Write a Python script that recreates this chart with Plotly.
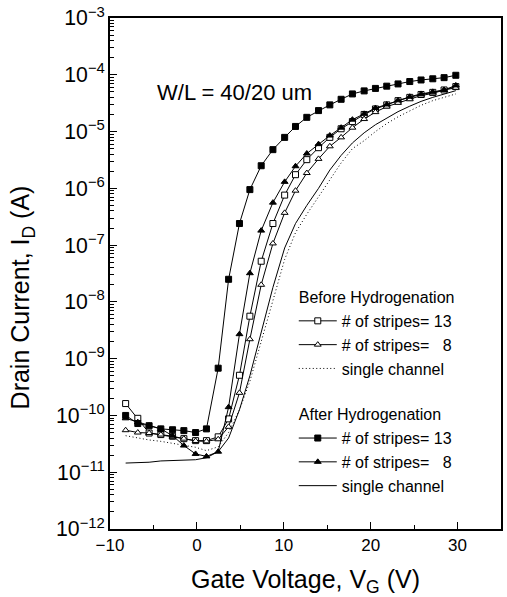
import plotly.graph_objects as go

# Gate-voltage sweep points (V)
vg = [-8.2, -6.8, -5.5, -4.15, -2.8, -1.5, -0.15, 1.1, 2.45, 3.65,
      4.9, 6.1, 7.4, 8.75, 10.1, 11.35, 12.65, 14.0, 15.3, 16.6,
      17.9, 19.25, 20.55, 21.85, 23.15, 24.5, 25.8, 27.15, 28.45, 29.8]

# Drain current (A) before hydrogenation
before_13 = [1.62e-10, 8.9e-11, 4.9e-11, 4.6e-11, 4.3e-11, 3.9e-11, 3.6e-11, 3.6e-11, 4.2e-11, 8.7e-11,
             5.1e-10, 5.6e-9, 5.2e-8, 2.4e-7, 7.6e-7, 1.74e-6, 3.2e-6, 5.2e-6, 7.9e-6, 1.12e-5,
             1.5e-5, 2.0e-5, 2.5e-5, 2.95e-5, 3.5e-5, 4.0e-5, 4.5e-5, 4.9e-5, 5.4e-5, 6.2e-5]
before_8 = [5.5e-11, 5.0e-11, 4.9e-11, 4.6e-11, 4.2e-11, 3.9e-11, 3.55e-11, 3.5e-11, 3.8e-11, 6.3e-11,
            2.5e-10, 2.2e-9, 2.0e-8, 1.07e-7, 3.7e-7, 9.1e-7, 1.86e-6, 3.3e-6, 5.5e-6, 7.9e-6,
            1.17e-5, 1.66e-5, 2.2e-5, 2.75e-5, 3.2e-5, 3.7e-5, 4.3e-5, 4.7e-5, 5.4e-5, 5.9e-5]
before_single = [4.4e-11, 4.0e-11, 3.7e-11, 3.5e-11, 3.2e-11, 2.95e-11, 2.75e-11, 2.4e-11, 2.8e-11, 5.0e-11,
                 1.26e-10, 4.0e-10, 2.0e-9, 1.12e-8, 5.6e-8, 1.66e-7, 3.5e-7, 7.1e-7, 1.38e-6, 2.8e-6,
                 5.0e-6, 6.9e-6, 1.0e-5, 1.38e-5, 1.82e-5, 2.34e-5, 2.9e-5, 3.5e-5, 4.0e-5, 4.6e-5]

# Drain current (A) after hydrogenation
after_13 = [1.0e-10, 7.2e-11, 6.6e-11, 5.8e-11, 5.6e-11, 5.4e-11, 5.0e-11, 5.8e-11, 6.8e-10, 2.5e-8,
            2.4e-7, 9.5e-7, 2.5e-6, 4.8e-6, 7.9e-6, 1.23e-5, 1.78e-5, 2.34e-5, 2.95e-5, 3.7e-5,
            4.6e-5, 5.2e-5, 5.75e-5, 6.3e-5, 6.9e-5, 7.6e-5, 8.1e-5, 8.5e-5, 8.9e-5, 9.8e-5]
after_8 = [8.9e-11, 7.6e-11, 6.6e-11, 5.8e-11, 4.4e-11, 2.95e-11, 2.1e-11, 1.9e-11, 2.3e-11, 1.4e-10,
           2.7e-9, 3.2e-8, 1.8e-7, 5.6e-7, 1.3e-6, 2.45e-6, 4.1e-6, 6.0e-6, 8.5e-6, 1.17e-5,
           1.62e-5, 2.05e-5, 2.6e-5, 3.0e-5, 3.55e-5, 4.1e-5, 4.6e-5, 5.0e-5, 5.4e-5, 6.5e-5]
after_single = [1.45e-11, 1.48e-11, 1.5e-11, 1.58e-11, 1.62e-11, 1.62e-11, 1.66e-11, 1.8e-11, 2.3e-11, 4.0e-11,
                1.26e-10, 5.0e-10, 2.8e-9, 1.8e-8, 8.9e-8, 2.4e-7, 5.0e-7, 1.0e-6, 2.1e-6, 3.8e-6,
                6.3e-6, 9.5e-6, 1.32e-5, 1.74e-5, 2.24e-5, 2.8e-5, 3.4e-5, 4.0e-5, 4.6e-5, 5.25e-5]

FONT = "Liberation Sans, Arial, sans-serif"
INK = "black"
NB = "\u00a0"

fig = go.Figure()


def add_series(y, name, group, title, symbol=None, filled=True, dash="solid"):
    mode = "lines+markers" if symbol else "lines"
    marker = None
    if symbol:
        marker = dict(symbol=symbol, size=6,
                      color=INK if filled else "white",
                      line=dict(color=INK, width=1))
    fig.add_trace(go.Scatter(
        x=vg, y=y, name=name, mode=mode,
        line=dict(color=INK, width=1, dash=dash),
        marker=marker,
        legendgroup=group,
        legendgrouptitle=dict(text=title, font=dict(family=FONT, size=16, color=INK)),
    ))


add_series(before_13, "# of stripes=" + NB + "13", "before", "Before Hydrogenation", "square", filled=False)
add_series(before_8, "# of stripes=" + NB * 3 + "8", "before", "Before Hydrogenation", "triangle-up", filled=False)
add_series(before_single, "single channel", "before", "Before Hydrogenation", dash="1px,2.5px")
add_series(after_13, "# of stripes=" + NB + "13", "after", "After Hydrogenation", "square")
add_series(after_8, "# of stripes=" + NB * 3 + "8", "after", "After Hydrogenation", "triangle-up")
add_series(after_single, "single channel", "after", "After Hydrogenation")

fig.add_annotation(x=0.115, y=-4.31, xref="paper", yref="y", xanchor="left",
                   text="W/L = 40/20 um", showarrow=False,
                   font=dict(family=FONT, size=22, color=INK))

# y-axis title placed as a rotated annotation
fig.add_annotation(x=-0.224, y=0.454, xref="paper", yref="paper",
                   xanchor="center", yanchor="middle",
                   text="Drain Current, I<sub>D</sub> (A)", textangle=-90,
                   showarrow=False, font=dict(family=FONT, size=25, color=INK))

fig.update_layout(
    width=507, height=597,
    margin=dict(l=110, r=4, t=14, b=68),
    paper_bgcolor="white", plot_bgcolor="white",
    font=dict(family=FONT, color=INK, size=16),
    legend=dict(x=0.47, y=0.487, xanchor="left", yanchor="top",
                bgcolor="rgba(0,0,0,0)", tracegroupgap=22,
                traceorder="grouped", itemwidth=38,
                font=dict(family=FONT, size=16, color=INK)),
)

fig.update_xaxes(
    range=[-10, 35], tick0=-10, dtick=10,
    ticks="inside", ticklen=7, tickwidth=1.2, tickcolor=INK,
    minor=dict(dtick=5, ticks="inside", ticklen=4, tickwidth=1, tickcolor=INK),
    showline=True, linecolor=INK, linewidth=1.5, mirror=True,
    showgrid=False, zeroline=False,
    tickfont=dict(family=FONT, size=17, color=INK),
    title=dict(text="Gate Voltage, V<sub>G</sub> (V)", standoff=16,
               font=dict(family=FONT, size=25, color=INK)),
)

fig.update_yaxes(
    type="log", range=[-12, -3], dtick=1, exponentformat="power",
    ticklabeloverflow="allow",
    ticks="inside", ticklen=7, tickwidth=1.2, tickcolor=INK,
    minor=dict(ticks="inside", ticklen=4, tickwidth=1, tickcolor=INK),
    showline=True, linecolor=INK, linewidth=1.5, mirror=True,
    showgrid=False, zeroline=False,
    tickfont=dict(family=FONT, size=17, color=INK),
)

fig.write_html("out.html")
